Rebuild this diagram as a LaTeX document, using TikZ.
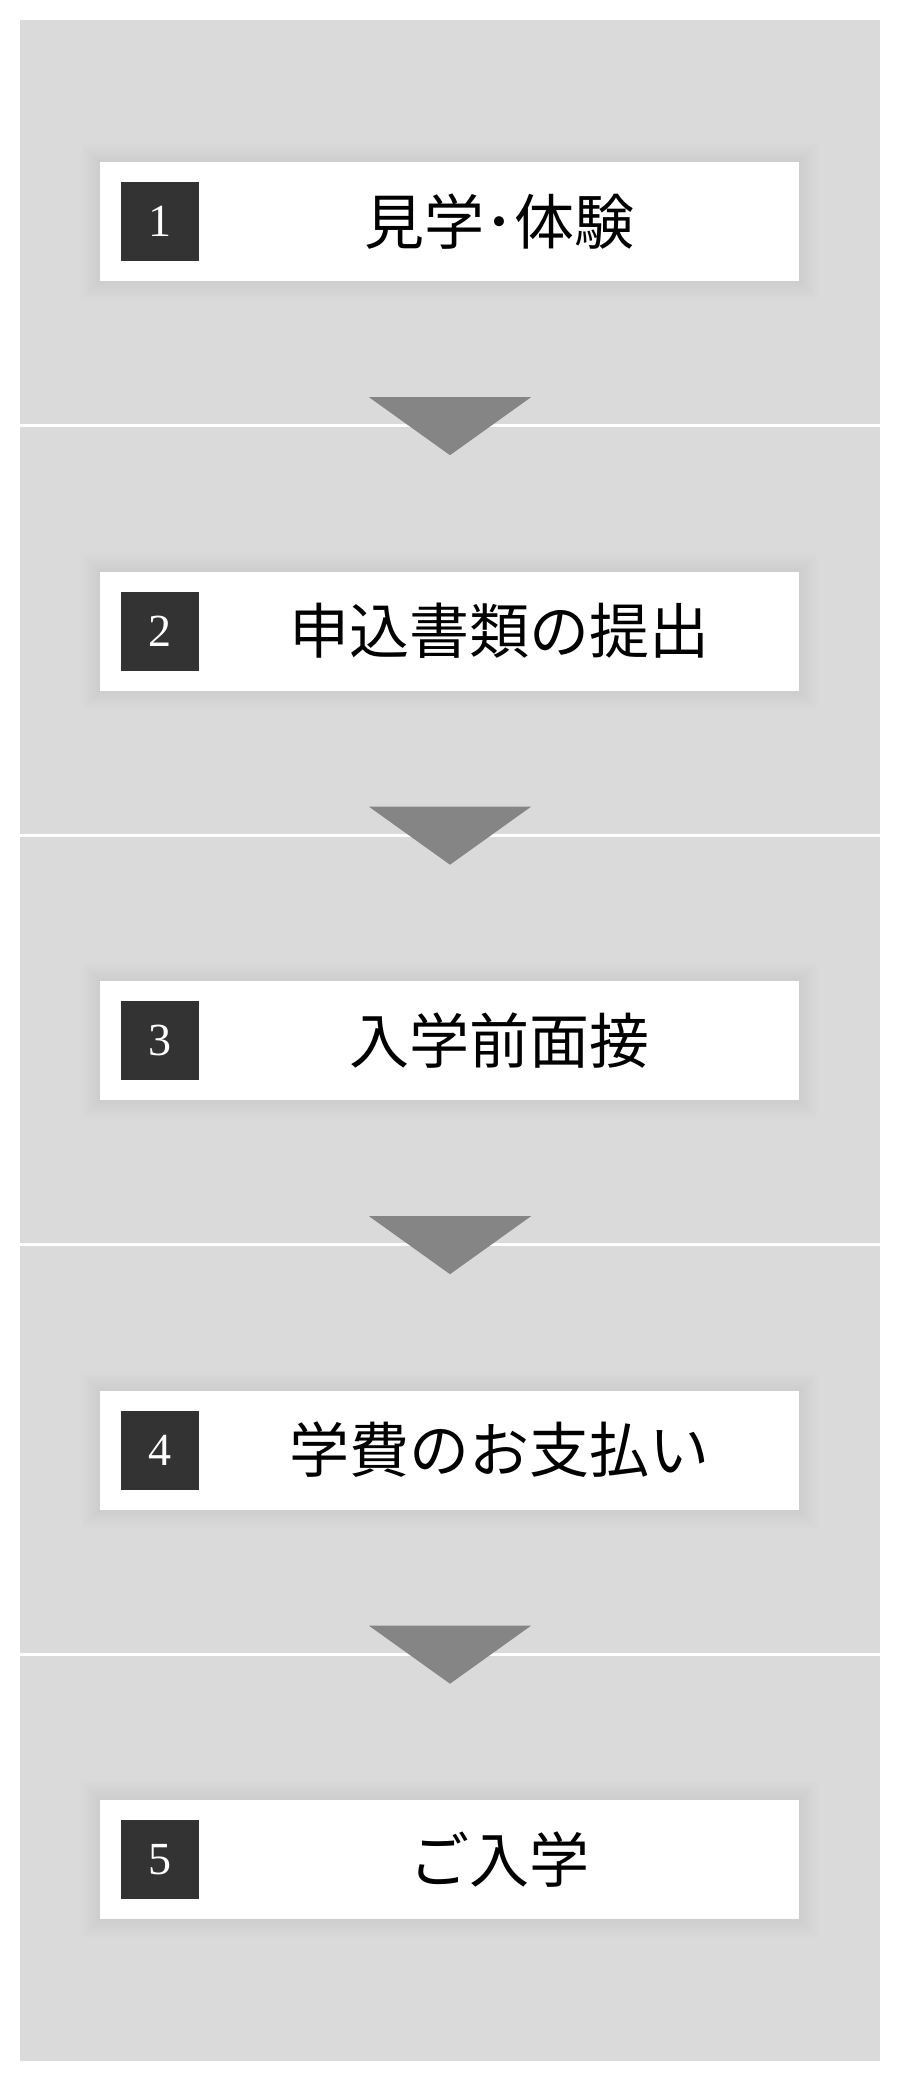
\documentclass[tikz,border=0pt]{standalone}
\usepackage{fontspec}
\setmainfont{Liberation Serif}
\newfontfamily\jpfont{Noto Sans CJK JP}
\usetikzlibrary{calc}

\definecolor{panelgray}{HTML}{DADADA}
\definecolor{numgray}{HTML}{333333}
\definecolor{arrowgray}{HTML}{858585}

\tikzset{
  stepbox/.style={fill=white, minimum width=699pt, minimum height=119pt, inner sep=0pt},
  numbox/.style={fill=numgray, text=white, minimum width=78pt, minimum height=79pt,
    inner sep=0pt, font=\fontsize{46}{50}\selectfont},
  steplabel/.style={font=\jpfont\fontsize{60}{66}\selectfont, inner sep=0pt},
  halo/.style={fill=black, opacity=0.007},
  sepline/.style={draw=white, line width=3.3pt},
}

\begin{document}
\begin{tikzpicture}[x=1pt,y=-1pt]
    \useasboundingbox (0,0) rectangle (900,2080);

    % Background panel
    \fill[panelgray] (20,20) rectangle (880,2061);

    % Step boxes
    \foreach \n/\txt [evaluate=\n as \d using (\n-1)*409.5] in
        {1/見学･体験, 2/申込書類の提出, 3/入学前面接, 4/学費のお支払い, 5/ご入学} {
        \begin{scope}[shift={(0,\d)}]
            % soft shadow round the box
            \foreach \r in {3,6,...,18}
                \fill[halo] (100-\r,162-\r) rectangle (799+\r,281+\r);
            \node[stepbox] (box\n) at (449.5,221.5) {};
            \node[numbox] (num\n) at (160,221.5) {\n};
            \node[steplabel] (label\n) at (499,221.5) {\txt};
        \end{scope}
    }

    % Separators and arrows between steps
    \foreach \n in {1,...,4} {
        \coordinate (sep\n) at ($(box\n.south)+(0,144.5)$);
        \draw[sepline] (sep\n -| 20,0) -- (sep\n -| 880,0);
        \coordinate (tip\n) at ($(box\n.south)+(0.5,174)$);
        \fill[arrowgray] ($(tip\n)+(-81,-58)$) -- ($(tip\n)+(81,-58)$) -- (tip\n) -- cycle;
    }
\end{tikzpicture}
\end{document}
